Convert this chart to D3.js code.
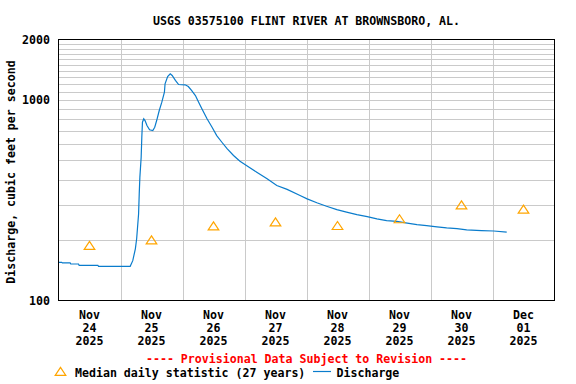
<!DOCTYPE html>
<html>
<head>
<meta charset="utf-8">
<script src="https://cdn.jsdelivr.net/npm/d3@7"></script>
<style>
  html, body { margin: 0; padding: 0; background: #fff; }
  svg { display: block; }
  text { font-family: "DejaVu Sans Mono", "Liberation Mono", monospace; font-weight: bold; font-size: 11.6px; }
</style>
</head>
<body>
<div id="chart"></div>
<script>
// ---- data ----
const title = "USGS 03575100 FLINT RIVER AT BROWNSBORO, AL.";
const yAxisTitle = "Discharge, cubic feet per second";
const yTickValues = [100, 1000, 2000];
const yGridValues = [200, 300, 400, 500, 600, 700, 800, 900, 1000, 1100, 1200, 1300, 1400, 1500, 1600, 1700, 1800, 1900];
const dayLabels = [["Nov","24","2025"],["Nov","25","2025"],["Nov","26","2025"],["Nov","27","2025"],["Nov","28","2025"],["Nov","29","2025"],["Nov","30","2025"],["Dec","01","2025"]];
const dayStarts = ["2025-11-24","2025-11-25","2025-11-26","2025-11-27","2025-11-28","2025-11-29","2025-11-30","2025-12-01","2025-12-02"];
const medianDates = ["2025-11-24","2025-11-25","2025-11-26","2025-11-27","2025-11-28","2025-11-29","2025-11-30","2025-12-01"];
const medianValues = [188, 200, 235, 246, 236, 255, 299, 285];
const dischargeTimes = [
  "2025-11-24T00:00","2025-11-24T01:15","2025-11-24T01:30","2025-11-24T04:30","2025-11-24T04:45",
  "2025-11-24T07:45","2025-11-24T08:00","2025-11-24T15:15","2025-11-24T15:30",
  "2025-11-25T03:45","2025-11-25T04:45","2025-11-25T05:45","2025-11-25T06:15","2025-11-25T07:00",
  "2025-11-25T07:15","2025-11-25T07:30","2025-11-25T08:00","2025-11-25T08:15","2025-11-25T08:30",
  "2025-11-25T09:00","2025-11-25T09:30","2025-11-25T10:15","2025-11-25T11:15","2025-11-25T12:30",
  "2025-11-25T13:15","2025-11-25T14:00","2025-11-25T15:00","2025-11-25T16:00","2025-11-25T17:00",
  "2025-11-25T17:15","2025-11-25T18:15","2025-11-25T19:15","2025-11-25T20:00","2025-11-25T21:15",
  "2025-11-25T22:30","2025-11-26T01:00","2025-11-26T02:15","2025-11-26T03:30","2025-11-26T05:00",
  "2025-11-26T06:15","2025-11-26T07:30","2025-11-26T09:30","2025-11-26T11:30","2025-11-26T13:15",
  "2025-11-26T15:15","2025-11-26T17:15","2025-11-26T19:45","2025-11-26T22:15","2025-11-27T00:45",
  "2025-11-27T04:45","2025-11-27T08:45","2025-11-27T12:30","2025-11-27T16:30","2025-11-27T21:30",
  "2025-11-28T00:15","2025-11-28T04:00","2025-11-28T07:45","2025-11-28T11:45","2025-11-28T15:30",
  "2025-11-28T19:30","2025-11-28T23:30","2025-11-29T03:15","2025-11-29T07:00","2025-11-29T11:00",
  "2025-11-29T15:00","2025-11-29T18:45","2025-11-29T22:30","2025-11-30T02:30","2025-11-30T06:15",
  "2025-11-30T10:15","2025-11-30T14:00","2025-11-30T19:45","2025-12-01T00:30","2025-12-01T05:30"
];
const dischargeValues = [
  155, 155, 154, 154, 152,
  152, 149.5, 149.5, 148,
  148, 158, 181, 203, 270,
  340, 412, 518, 652, 774,
  805, 789, 745, 710, 704,
  731, 789, 885, 974, 1092,
  1203, 1308, 1349, 1323, 1250,
  1193, 1189, 1166, 1114, 1051,
  974, 903, 805, 729, 664,
  615, 571, 528, 495, 471,
  436, 404, 374, 358, 334,
  321, 307, 295, 284, 276,
  268, 262, 255, 250, 248,
  243, 239, 236, 233, 230,
  228, 225, 223, 222, 219
];
const provisionalText = "---- Provisional Data Subject to Revision ----";
const legendMedian = "Median daily statistic (27 years)";
const legendDischarge = "Discharge";

// ---- drawing ----
const W = 576, H = 384;
const plot = { left: 58.5, right: 554.5, top: 39.5, bottom: 300.5 };
const parseDay = d3.timeParse("%Y-%m-%d");
const parseTime = d3.timeParse("%Y-%m-%dT%H:%M");

const x = d3.scaleTime()
  .domain([parseDay(dayStarts[0]), parseDay(dayStarts[dayStarts.length - 1])])
  .range([plot.left, plot.right]);
const y = d3.scaleLog().domain([100, 2000]).range([plot.bottom, plot.top]);

const svg = d3.select("#chart").append("svg").attr("width", W).attr("height", H);

// grid
const grid = svg.append("g").attr("stroke", "#cacaca").attr("stroke-width", 1).attr("shape-rendering", "crispEdges");
grid.selectAll("line.h").data(yGridValues).enter().append("line")
  .attr("x1", plot.left).attr("x2", plot.right)
  .attr("y1", d => Math.round(y(d)) + 0.5).attr("y2", d => Math.round(y(d)) + 0.5);
grid.selectAll("line.v").data(dayStarts.slice(1, -1)).enter().append("line")
  .attr("x1", d => Math.round(x(parseDay(d))) + 0.5).attr("x2", d => Math.round(x(parseDay(d))) + 0.5)
  .attr("y1", plot.top).attr("y2", plot.bottom);

// discharge line
const series = dischargeTimes.map((t, i) => ({ t: parseTime(t), v: dischargeValues[i] }));
svg.append("path").datum(series)
  .attr("fill", "none").attr("stroke", "#0a7ccc").attr("stroke-width", 1.2)
  .attr("d", d3.line().x(d => x(d.t)).y(d => y(d.v)));

// median triangles
const tri = (cx, cy) => `M${cx},${cy - 4.2}L${cx + 5.3},${cy + 3.8}L${cx - 5.3},${cy + 3.8}Z`;
svg.append("g").selectAll("path").data(medianDates).enter().append("path")
  .attr("d", (d, i) => tri(x(d3.timeHour.offset(parseDay(d), 12)), y(medianValues[i])))
  .attr("fill", "none").attr("stroke", "#ffa500").attr("stroke-width", 1.2);

// border
svg.append("rect").attr("x", plot.left).attr("y", plot.top)
  .attr("width", plot.right - plot.left).attr("height", plot.bottom - plot.top)
  .attr("fill", "none").attr("stroke", "#000").attr("stroke-width", 1.2).attr("shape-rendering", "crispEdges");

// title
svg.append("text").attr("x", (plot.left + plot.right) / 2).attr("y", 24.5)
  .attr("text-anchor", "middle").text(title);

// y tick labels
svg.append("g").selectAll("text").data(yTickValues).enter().append("text")
  .attr("x", 50).attr("y", d => y(d) + 4.3).attr("text-anchor", "end").text(d => d);

// y axis title
svg.append("text").attr("transform", "translate(15,172) rotate(-90)")
  .attr("text-anchor", "middle").text(yAxisTitle);

// x labels
const xl = svg.append("g").selectAll("g").data(dayLabels).enter().append("g")
  .attr("transform", (d, i) => `translate(${x(d3.timeHour.offset(parseDay(dayStarts[i]), 12))},0)`);
xl.each(function(d) {
  d.forEach((s, j) => {
    d3.select(this).append("text").attr("x", 0).attr("y", 318.5 + j * 13)
      .attr("text-anchor", "middle").text(s);
  });
});

// provisional
svg.append("text").attr("x", (plot.left + plot.right) / 2).attr("y", 363)
  .attr("text-anchor", "middle").attr("fill", "#ff0000").text(provisionalText);

// legend
svg.append("path").attr("d", tri(60.5, 371.5)).attr("fill", "none").attr("stroke", "#ffa500").attr("stroke-width", 1.2);
svg.append("text").attr("x", 75).attr("y", 376.5).text(legendMedian);
svg.append("line").attr("x1", 313).attr("x2", 331).attr("y1", 371.5).attr("y2", 371.5)
  .attr("stroke", "#0a7ccc").attr("stroke-width", 1.2);
svg.append("text").attr("x", 336.5).attr("y", 376.5).text(legendDischarge);
</script>
</body>
</html>
